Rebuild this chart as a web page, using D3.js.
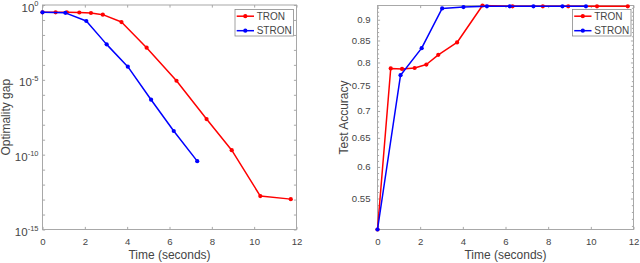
<!DOCTYPE html>
<html>
<head>
<meta charset="utf-8">
<script src="https://cdn.jsdelivr.net/npm/d3@7"></script>
<style>
  html, body { margin: 0; padding: 0; background: #fff; }
  svg { display: block; font-family: "Liberation Sans", Arial, sans-serif; }
</style>
</head>
<body>
<svg id="chart" width="640" height="263"></svg>
<script>
// ---------- data ----------
const tronTime  = [0, 0.62, 1.15, 1.74, 2.29, 2.85, 3.73, 4.92, 6.33, 7.75, 8.94, 10.29, 11.73];
const stronTime = [0, 1.08, 2.07, 3.03, 4.03, 5.13, 6.2, 7.31, 8.67, 9.77];

const tronGap  = [0.324, 0.324, 0.322, 0.316, 0.292, 0.226, 0.0724, 1.41e-3, 8.7e-6, 2.4e-8, 2.0e-10, 1.7e-13, 1.07e-13];
const stronGap = [0.324, 0.30, 0.0851, 2.34e-3, 7.6e-5, 4.7e-7, 3.8e-9, 3.7e-11];

const tronAcc  = [0.505, 0.787, 0.786, 0.788, 0.7955, 0.817, 0.8454, 0.936, 0.934, 0.934, 0.934, 0.934, 0.934];
const stronAcc = [0.505, 0.7725, 0.8323, 0.9286, 0.932, 0.934, 0.934, 0.934, 0.934, 0.934];

const seriesNames = ["TRON", "STRON"];
const seriesColors = ["#ff0000", "#0000ff"];

const xTicks = [0, 2, 4, 6, 8, 10, 12];
const gapTickExp = [0, -5, -10, -15];
const accTicks = [0.55, 0.6, 0.65, 0.7, 0.75, 0.8, 0.85, 0.9];
const accTickLabels = ["0.55", "0.6", "0.65", "0.7", "0.75", "0.8", "0.85", "0.9"];

const xLabel = "Time (seconds)";
const leftYLabel = "Optimality gap";
const rightYLabel = "Test Accuracy";

// ---------- style ----------
const axisColor = "#a8a8a8";
const textColor = "#454545";

const svg = d3.select("#chart");

function drawPanel(opts) {
  const { x0, x1, y0, y1, yScaleType, yDomain, series, yLabel, yLabelX, legendBox } = opts;
  const g = svg.append("g");
  const x = d3.scaleLinear().domain([0, 12]).range([x0, x1]);
  const y = (yScaleType === "log10")
    ? d3.scaleLog().base(10).domain(yDomain).range([y1, y0])
    : d3.scaleLog().domain(yDomain).range([y1, y0]);

  // box
  g.append("rect")
    .attr("x", x0).attr("y", y0)
    .attr("width", x1 - x0).attr("height", y1 - y0)
    .attr("fill", "none").attr("stroke", axisColor).attr("stroke-width", 1);

  // x ticks (inward, bottom and top)
  const xb = g.append("g").attr("transform", `translate(0,${y1})`)
    .call(d3.axisBottom(x).tickValues(xTicks).tickSize(-2.6).tickPadding(9).tickFormat(d3.format("d")));
  const xt = g.append("g").attr("transform", `translate(0,${y0})`)
    .call(d3.axisTop(x).tickValues(xTicks).tickSize(-2.6).tickFormat(""));
  [xb, xt].forEach(a => {
    a.select(".domain").remove();
    a.selectAll("line").attr("stroke", axisColor);
  });
  xb.selectAll("text").attr("fill", textColor).attr("font-size", "9.6px")
    .attr("font-family", "Liberation Sans, Arial, sans-serif");

  // y ticks
  let yMajor, yMinor = [];
  if (yScaleType === "log10") {
    yMajor = gapTickExp.map(e => Math.pow(10, e));
    yMinor = d3.range(-1, -15, -1).filter(e => e % 5 !== 0).map(e => Math.pow(10, e));
  } else {
    yMajor = accTicks;
    yMinor = d3.range(51, 94).map(v => v / 100).filter(v => v > yDomain[0] && v < yDomain[1] && !accTicks.some(t => Math.abs(t - v) < 1e-9));
  }
  const minorLen = yScaleType === "log10" ? 2.6 : 1.6;
  const yl = g.append("g").attr("transform", `translate(${x0},0)`)
    .call(d3.axisLeft(y).tickValues(yMajor).tickSize(-2.6).tickPadding(6).tickFormat(""));
  const yr = g.append("g").attr("transform", `translate(${x1},0)`)
    .call(d3.axisRight(y).tickValues(yMajor).tickSize(-2.6).tickFormat(""));
  const ylm = g.append("g").attr("transform", `translate(${x0},0)`)
    .call(d3.axisLeft(y).tickValues(yMinor).tickSize(-minorLen).tickFormat(""));
  const yrm = g.append("g").attr("transform", `translate(${x1},0)`)
    .call(d3.axisRight(y).tickValues(yMinor).tickSize(-minorLen).tickFormat(""));
  [yl, yr, ylm, yrm].forEach(a => {
    a.select(".domain").remove();
    a.selectAll("line").attr("stroke", axisColor);
  });

  // y tick labels
  if (yScaleType === "log10") {
    gapTickExp.forEach(e => {
      const t = g.append("text")
        .attr("x", x0 - 4).attr("y", y(Math.pow(10, e)) + 6.5)
        .attr("text-anchor", "end").attr("fill", textColor)
        .attr("font-size", "11.5px");
      t.append("tspan").text("10");
      t.append("tspan").attr("dy", -5.5).attr("font-size", "7.5px").text(String(e));
    });
  } else {
    accTicks.forEach((v, i) => {
      g.append("text")
        .attr("x", x0 - 7).attr("y", y(v) + 3.5)
        .attr("text-anchor", "end").attr("fill", textColor)
        .attr("font-size", "9.6px").text(accTickLabels[i]);
    });
  }

  // axis labels
  g.append("text")
    .attr("x", (x0 + x1) / 2).attr("y", 258.5)
    .attr("text-anchor", "middle").attr("fill", textColor)
    .attr("font-size", "12px").text(xLabel);
  g.append("text")
    .attr("transform", `translate(${yLabelX},${(y0 + y1) / 2}) rotate(-90)`)
    .attr("text-anchor", "middle").attr("fill", textColor)
    .attr("font-size", "12px").text(yLabel);

  // series
  const line = d3.line().x(d => x(d[0])).y(d => y(d[1]));
  series.forEach((s, i) => {
    const pts = s.values.map((v, j) => [s.time[j], v]);
    g.append("path").datum(pts)
      .attr("d", line).attr("fill", "none")
      .attr("stroke", seriesColors[i]).attr("stroke-width", 1.5)
      .attr("stroke-linejoin", "round");
    g.selectAll(null).data(pts).enter().append("circle")
      .attr("cx", d => x(d[0])).attr("cy", d => y(d[1]))
      .attr("r", 2.1).attr("fill", seriesColors[i]);
  });

  // legend
  const lb = legendBox;
  const lg = g.append("g");
  lg.append("rect").attr("x", lb.x).attr("y", lb.y).attr("width", lb.w).attr("height", lb.h)
    .attr("fill", "#fff").attr("stroke", "#8a8a8a").attr("stroke-width", 0.8);
  seriesNames.forEach((n, i) => {
    const cy = lb.y + 6.7 + i * 14.5;
    lg.append("line").attr("x1", lb.x + 1.7).attr("x2", lb.x + 19)
      .attr("y1", cy).attr("y2", cy)
      .attr("stroke", seriesColors[i]).attr("stroke-width", 1.5);
    lg.append("circle").attr("cx", lb.x + 10.3).attr("cy", cy).attr("r", 2.1).attr("fill", seriesColors[i]);
    lg.append("text").attr("x", lb.x + 21.7).attr("y", cy + 3.6)
      .attr("fill", textColor).attr("font-size", "10px").text(n);
  });
}

drawPanel({
  x0: 42.5, x1: 296.5, y0: 5, y1: 229.5,
  yScaleType: "log10", yDomain: [1e-15, 1],
  series: [{ time: tronTime, values: tronGap }, { time: stronTime.slice(0, stronGap.length), values: stronGap }],
  yLabel: leftYLabel, yLabelX: 9.5,
  legendBox: { x: 235, y: 9.5, w: 58.5, h: 26.5 }
});

drawPanel({
  x0: 377.5, x1: 633.5, y0: 5.5, y1: 229.5,
  yScaleType: "log", yDomain: [0.505, 0.936],
  series: [{ time: tronTime, values: tronAcc }, { time: stronTime, values: stronAcc }],
  yLabel: rightYLabel, yLabelX: 347.5,
  legendBox: { x: 572.5, y: 9.5, w: 58.5, h: 26.5 }
});
</script>
</body>
</html>
